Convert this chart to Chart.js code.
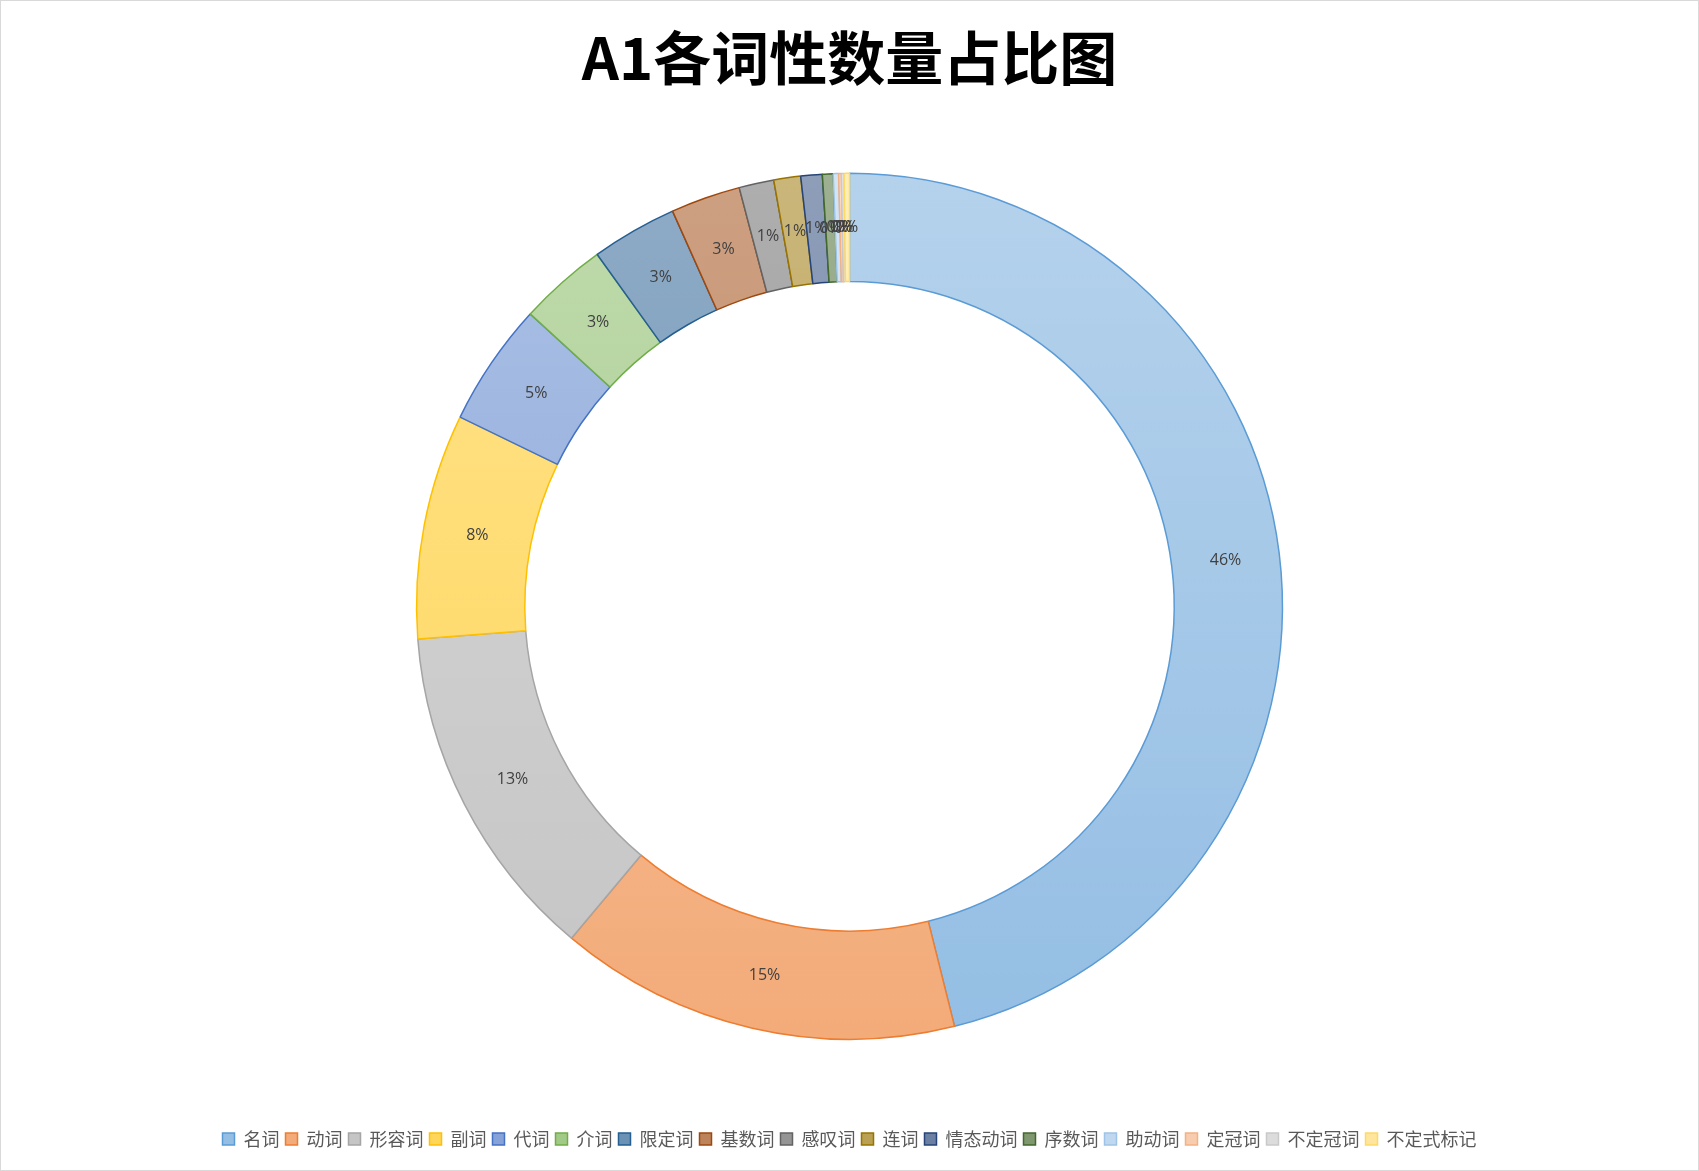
<!DOCTYPE html>
<html>
<head>
<meta charset="utf-8">
<script src="https://cdn.jsdelivr.net/npm/chart.js@4"></script>
<style>
  html, body { margin: 0; padding: 0; background: #fff; }
  #wrap { position: absolute; left: 0; top: 0; width: 1697px; height: 1169px; border: 1px solid #d9d9d9; }
</style>
</head>
<body>
<div id="wrap"><canvas id="chart"></canvas></div>
<script>
// word classes and their counts
const categories = ['名词', '动词', '形容词', '副词', '代词', '介词', '限定词', '基数词', '感叹词', '连词', '情态动词', '序数词', '助动词', '定冠词', '不定冠词', '不定式标记'];
const counts = [461, 150, 127, 84, 46, 33, 32, 26, 13, 10, 8, 4, 2, 1, 1, 2];
const baseColors = ['#5B9BD5', '#ED7D31', '#A5A5A5', '#FFC000', '#4472C4', '#70AD47', '#255E91', '#9E480E', '#636363', '#997300', '#264478', '#43682B', '#9DC3E6', '#F4B183', '#C9C9C9', '#FFD966'];
const chartTitle = 'A1各词性数量占比图';

function hexToRgb(h) {
    const n = parseInt(h.slice(1), 16);
    return [(n >> 16) & 255, (n >> 8) & 255, n & 255];
}

function tint(h, amt) {
    const c = hexToRgb(h).map(v => Math.round(v + (255 - v) * amt));
    return `rgb(${c[0]}, ${c[1]}, ${c[2]})`;
}

// vertical gradient like the office chart fill (darker series get less white)
function sliceFill(context) {
    const chart = context.chart;
    const area = chart.chartArea;
    const i = context.dataIndex;
    const base = baseColors[i];
    const dark = i >= 6 && i <= 11;
    const top = dark ? 0.48 : 0.55;
    const bottom = dark ? 0.32 : 0.35;
    if (!area) return tint(base, (top + bottom) / 2);
    const g = chart.ctx.createLinearGradient(0, area.top, 0, area.bottom);
    g.addColorStop(0, tint(base, top));
    g.addColorStop(1, tint(base, bottom));
    return g;
}

const total = counts.reduce((s, v) => s + v, 0);

const sliceLabels = {
    id: 'sliceLabels',
    afterDatasetsDraw(chart) {
        const ctx = chart.ctx;
        const meta = chart.getDatasetMeta(0);
        ctx.save();
        ctx.font = '16px "Open Sans", "Noto Sans", sans-serif';
        ctx.fillStyle = '#404040';
        ctx.textAlign = 'center';
        ctx.textBaseline = 'middle';
        meta.data.forEach((arc, i) => {
            const pos = arc.tooltipPosition();
            const pct = Math.round(counts[i] / total * 100) + '%';
            ctx.fillText(pct, pos.x, pos.y);
        });
        ctx.restore();
    }
};

const ctx = document.getElementById('chart').getContext('2d');
new Chart(ctx, {
    type: 'doughnut',
    data: {
        labels: categories,
        datasets: [{
            data: counts,
            backgroundColor: sliceFill,
            borderColor: baseColors,
            borderWidth: 1.5
        }]
    },
    options: {
        responsive: true,
        maintainAspectRatio: false,
        animation: false,
        cutout: '75%',
        layout: { padding: { top: 0, bottom: 12, left: 0, right: 0 } },
        plugins: {
            title: {
                display: true,
                text: chartTitle,
                color: '#000',
                font: { size: 58, weight: 'bold', family: '"Noto Sans CJK SC", "Open Sans", sans-serif' },
                padding: { top: 22, bottom: 80 }
            },
            legend: {
                position: 'bottom',
                title: {
                    display: true,
                    text: ' ',
                    font: { size: 10, lineHeight: 1 },
                    padding: { top: 74, bottom: 0 }
                },
                labels: {
                    color: '#595959',
                    boxWidth: 12,
                    boxHeight: 12,
                    padding: 6,
                    font: { size: 18, family: '"Noto Sans CJK SC", sans-serif' }
                }
            },
            tooltip: { enabled: false }
        }
    },
    plugins: [sliceLabels]
});
</script>
</body>
</html>
